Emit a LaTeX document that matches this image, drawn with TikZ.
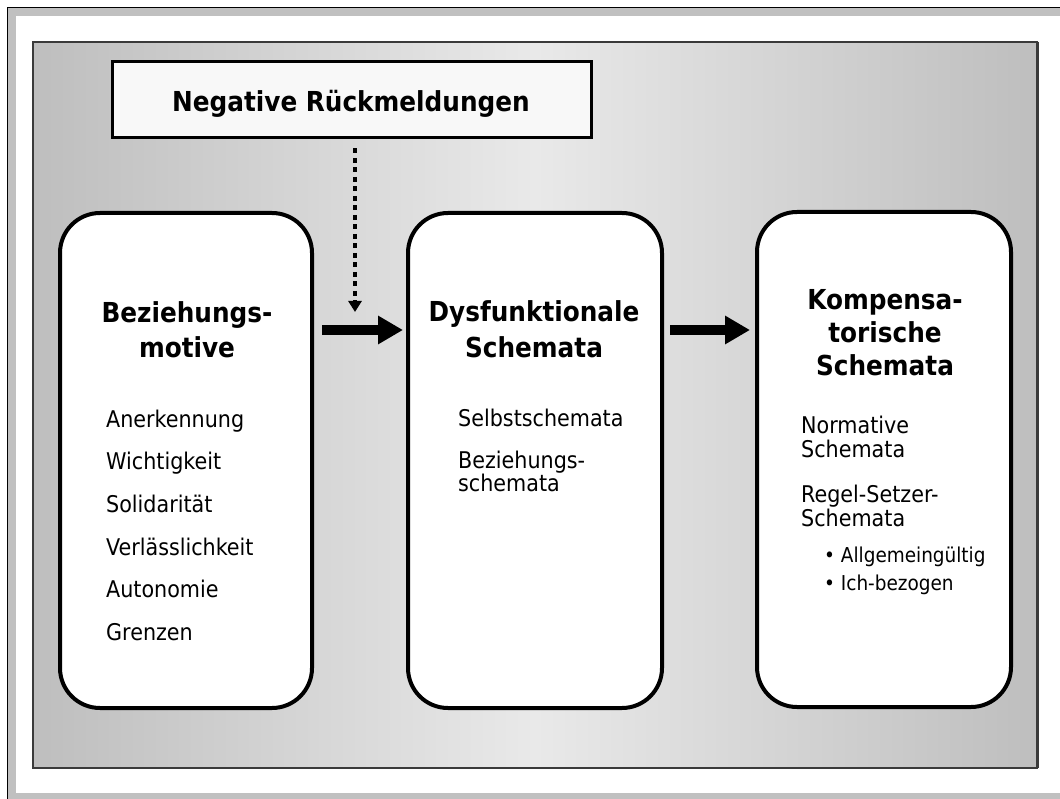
\documentclass[tikz,border=0pt]{standalone}
\usepackage{fontspec}
\setmainfont{DejaVu Sans Condensed}
\usetikzlibrary{arrows.meta}
\definecolor{bandgray}{HTML}{C0C0C0}
\definecolor{shadeedge}{HTML}{BEBEBE}
\definecolor{shademid}{HTML}{E9E9E9}
\definecolor{framegray}{HTML}{3A3A3A}
\definecolor{topfill}{HTML}{F8F8F8}
\tikzset{
  box/.style={draw=black, line width=4pt, fill=white, rounded corners=40pt, inner sep=0pt},
  topbox/.style={draw=black, line width=3pt, fill=topfill, inner sep=0pt},
  title/.style={font=\fontsize{27.5}{33}\selectfont\bfseries, anchor=base, inner sep=0pt},
  item/.style={font=\fontsize{23}{28}\selectfont, anchor=base west, inner sep=0pt},
  subitem/.style={font=\fontsize{20.5}{25}\selectfont, anchor=base west, inner sep=0pt},
  bigarrow/.style={line width=10pt, -{Triangle[length=25pt,width=27pt]}},
  dotarrow/.style={line width=4pt, dash pattern=on 5pt off 4.5pt, -{Triangle[length=11pt,width=13pt]}},
}
\begin{document}
\begin{tikzpicture}[x=1pt,y=-1pt]
\useasboundingbox (0,0) rectangle (1060,799);
\fill[white] (0,0) rectangle (1060,799);
% outer frame
\fill[bandgray] (7,7) rectangle (1060,16);
\fill[bandgray] (7,7) rectangle (16,799);
\fill[bandgray] (7,793) rectangle (1060,799);
\draw[black, line width=1.2pt] (7.5,799) -- (7.5,7.5) -- (1060,7.5);
% shaded panel
\shade[left color=shadeedge, right color=shadeedge, middle color=shademid] (33,42) rectangle (1037,768);
\draw[framegray, line width=1.3pt] (33,42) rectangle (1037,768);
\draw[framegray, line width=3pt] (1037,42) -- (1037,768);

% top box
\node[topbox, minimum width=479pt, minimum height=76pt] (neg) at (351.5,100) {};
\node[title] (negt) at (351,112) {Negative Rückmeldungen};

% main boxes
\node[box, minimum width=252pt, minimum height=495pt] (b1) at (186,460.5) {};
\node[box, minimum width=254pt, minimum height=495pt] (b2) at (535,460.5) {};
\node[box, minimum width=254pt, minimum height=495pt] (b3) at (884,459.5) {};

% box 1 text
\node[title] (t1a) at (187,323) {Beziehungs-};
\node[title] (t1b) at (187,358) {motive};
\node[item] (i1a) at (106,427) {Anerkennung};
\node[item] (i1b) at (106,469) {Wichtigkeit};
\node[item] (i1c) at (106,512) {Solidarität};
\node[item] (i1d) at (106,555) {Verlässlichkeit};
\node[item] (i1e) at (106,597) {Autonomie};
\node[item] (i1f) at (106,640) {Grenzen};

% box 2 text
\node[title] (t2a) at (534,322) {Dysfunktionale};
\node[title] (t2b) at (534,358) {Schemata};
\node[item] (i2a) at (458,426) {Selbstschemata};
\node[item] (i2b) at (458,468) {Beziehungs-};
\node[item] (i2c) at (458,491) {schemata};

% box 3 text
\node[title] (t3a) at (885,310) {Kompensa-};
\node[title] (t3b) at (885,343) {torische};
\node[title] (t3c) at (885,376) {Schemata};
\node[item] (i3a) at (801,433) {Normative};
\node[item] (i3b) at (801,457) {Schemata};
\node[item] (i3c) at (801,502) {Regel-Setzer-};
\node[item] (i3d) at (801,526) {Schemata};
\node[subitem] (s3a) at (824,562) {• Allgemeingültig};
\node[subitem] (s3b) at (824,590) {• Ich-bezogen};

% arrows
\draw[bigarrow] ([xshift=8pt,yshift=130.5pt]b1.east) -- ([xshift=-3pt,yshift=130.5pt]b2.west);
\draw[bigarrow] ([xshift=6pt,yshift=130.5pt]b2.east) -- ([xshift=-5pt,yshift=129.5pt]b3.west);
\coordinate (dotend) at (355,312);
\draw[dotarrow] ([xshift=3.5pt,yshift=-9pt]neg.south) -- (dotend);
\end{tikzpicture}
\end{document}
